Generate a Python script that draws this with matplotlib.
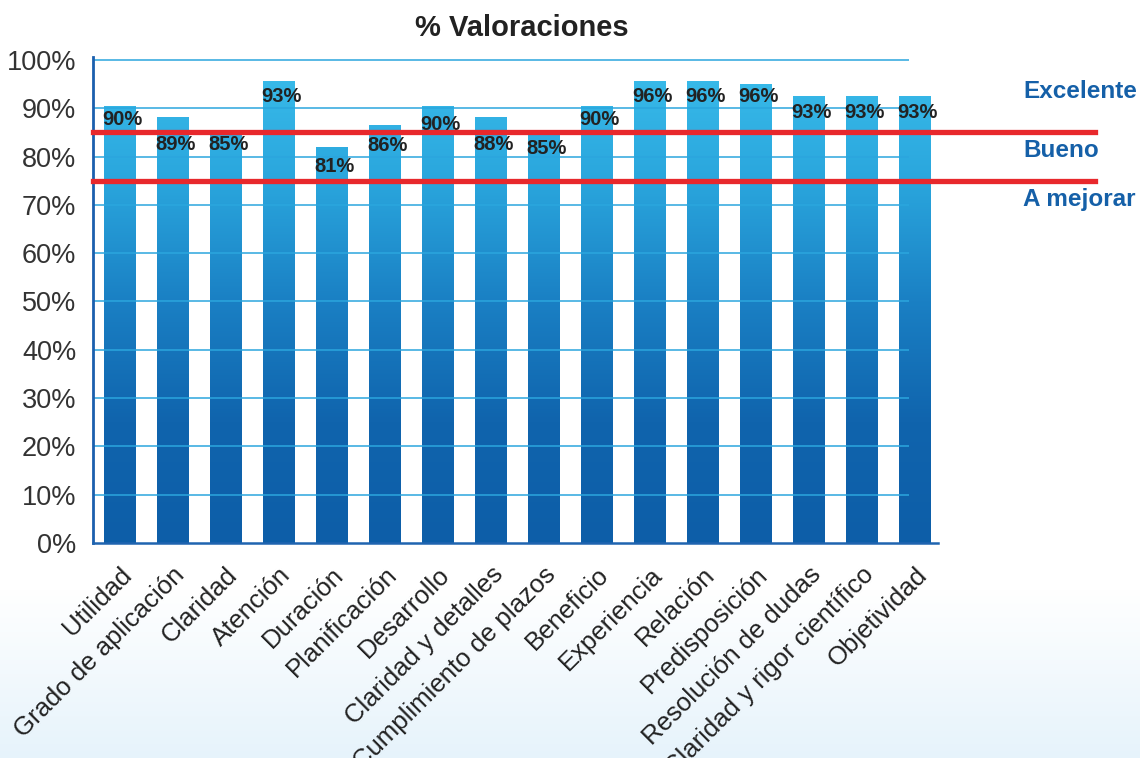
import numpy as np
import matplotlib.pyplot as plt
from matplotlib.colors import LinearSegmentedColormap
from matplotlib.transforms import blended_transform_factory

plt.rcParams['font.family'] = ['Liberation Sans', 'DejaVu Sans']

categories = ['Utilidad', 'Grado de aplicación', 'Claridad', 'Atención', 'Duración',
              'Planificación', 'Desarrollo', 'Claridad y detalles', 'Cumplimiento de plazos',
              'Beneficio', 'Experiencia', 'Relación', 'Predisposición',
              'Resolución de dudas', 'Claridad y rigor científico', 'Objetividad']
values = [90.5, 88.2, 85.0, 95.6, 82.0, 86.6, 90.5, 88.2, 85.0, 90.5,
          95.6, 95.6, 95.0, 92.5, 92.5, 92.5]
value_labels = ['90%', '89%', '85%', '93%', '81%', '86%', '90%', '88%', '85%', '90%',
                '96%', '96%', '96%', '93%', '93%', '93%']
# vertical position of each value label (as drawn in the original)
label_y = [87.7, 82.5, 82.5, 92.5, 77.9, 82.3, 86.7, 82.4, 81.7, 87.6,
           92.4, 92.4, 92.4, 89.1, 89.1, 89.1]
bands = [85, 75]
band_names = ['Excelente', 'Bueno', 'A mejorar']
band_name_y = [93.5, 81.2, 71.1]
yticks = list(range(0, 101, 10))

W, H = 1140, 758
fig = plt.figure(figsize=(W / 100, H / 100), dpi=100)

# background: white fading to pale blue at the bottom
bg = fig.add_axes([0, 0, 1, 1], zorder=-10)
rows = np.linspace(0, 1, H)
top_c = np.array([1.0, 1.0, 1.0])
bot_c = np.array([0xe6, 0xf3, 0xfb]) / 255
t = np.clip((rows * H - 590) / (H - 590), 0, 1)[:, None]
img = top_c * (1 - t) + bot_c * t
bg.imshow(img[:, None, :], aspect='auto', extent=(0, 1, 0, 1), origin='upper')
bg.set_axis_off()

ax = fig.add_axes([93 / W, 1 - 543 / H, (938 - 93) / W, (543 - 57) / H])
ax.set_facecolor('none')

cmap = LinearSegmentedColormap.from_list('bar', [
    (0.0, '#0d5ea8'), (0.25, '#1064ad'), (0.5, '#1a80c4'),
    (0.75, '#2aa6dd'), (1.0, '#3abdeb')])
grad = np.linspace(0, 1, 256)[:, None]

x = np.arange(len(categories))
w = 0.585
bars = ax.bar(x, values, width=w, color='none', edgecolor='none')
for xi, bar in zip(x, bars):
    im = ax.imshow(grad, cmap=cmap, aspect='auto', origin='lower',
                   extent=(xi - w / 2, xi + w / 2, 0, 100), zorder=1)
    im.set_clip_path(bar)

ax.hlines(yticks[1:], -0.5, 14.9, color='#2ba6de', lw=1.1, zorder=2)

for xi, ly, lab in zip(x, label_y, value_labels):
    ax.text(xi + 0.06, ly, lab, ha='center', va='center', fontsize=14.5,
            fontweight='bold', color='#222222', zorder=3)

for b in bands:
    ax.axhline(b, xmin=0, xmax=1.186, color='#e8282c', lw=3.8, clip_on=False, zorder=4)

tr = blended_transform_factory(ax.transAxes, ax.transData)
for name, ny in zip(band_names, band_name_y):
    ax.text(1.1006, ny, name, transform=tr, ha='left', va='center', fontsize=17.5,
            fontweight='bold', color='#1560a8')

ax.set_xlim(-0.5, 15.44)
ax.set_ylim(0, 100.6)
ax.set_yticks(yticks)
ax.set_yticklabels([f'{v}%' for v in yticks])
ax.set_xticks(x)
ax.set_xticklabels(categories, rotation=45, ha='right', rotation_mode='anchor')
ax.tick_params(axis='y', length=0, pad=12, labelsize=19.5, labelcolor='#333333')
ax.tick_params(axis='x', length=0, pad=14, labelsize=18.5, labelcolor='#222222')

for s in ['top', 'right']:
    ax.spines[s].set_visible(False)
ax.spines['left'].set_color('#1b5fae')
ax.spines['left'].set_linewidth(2)
ax.spines['bottom'].set_color('#1f64b0')
ax.spines['bottom'].set_linewidth(1.8)

fig.text(0.458, 1 - 28 / H, '% Valoraciones', ha='center', va='center',
         fontsize=21, fontweight='bold', color='#222222')

fig.savefig('out.png', dpi=100)
